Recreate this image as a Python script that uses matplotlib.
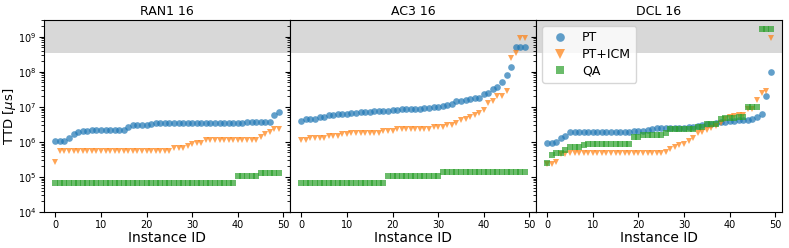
import numpy as np
import matplotlib
matplotlib.use("Agg")
import matplotlib.pyplot as plt

# instance ids 0..49
instance_id = np.arange(50)

# RAN1 16
ran1_pt = [1.05e6, 1.05e6, 1.05e6, 1.3e6, 1.65e6, 1.95e6, 2.05e6, 2.1e6, 2.15e6, 2.15e6,
           2.15e6, 2.15e6, 2.15e6, 2.15e6, 2.15e6, 2.2e6, 2.6e6, 3.0e6, 3.0e6, 3.0e6,
           3.0e6, 3.2e6, 3.5e6, 3.5e6, 3.5e6, 3.5e6, 3.5e6, 3.5e6, 3.5e6, 3.5e6,
           3.5e6, 3.5e6, 3.5e6, 3.5e6, 3.5e6, 3.5e6, 3.5e6, 3.55e6, 3.55e6, 3.55e6,
           3.55e6, 3.55e6, 3.6e6, 3.6e6, 3.6e6, 3.7e6, 3.8e6, 3.8e6, 5.8e6, 7.2e6]
ran1_icm = [2.7e5] + [5.4e5] * 25 + [6.6e5, 6.6e5, 6.6e5, 7.7e5, 9.0e5, 9.2e5, 9.5e5] + \
           [1.15e6] * 12 + [1.4e6, 1.65e6, 1.9e6, 2.3e6, 2.3e6]
ran1_qa = [6.6e4] * 40 + [1.08e5] * 5 + [1.33e5] * 5

# AC3 16
ac3_pt = [4.0e6, 4.5e6, 4.5e6, 4.6e6, 5.2e6, 5.3e6, 5.8e6, 5.9e6, 6.1e6, 6.3e6,
          6.4e6, 6.6e6, 6.8e6, 7.0e6, 7.2e6, 7.3e6, 7.4e6, 7.5e6, 7.6e6, 7.8e6,
          8.0e6, 8.2e6, 8.5e6, 8.6e6, 8.7e6, 8.8e6, 9.0e6, 9.3e6, 9.5e6, 1.0e7,
          1.02e7, 1.05e7, 1.1e7, 1.2e7, 1.45e7, 1.5e7, 1.6e7, 1.7e7, 1.8e7, 1.8e7,
          2.4e7, 2.5e7, 3.3e7, 3.6e7, 5.3e7, 8.0e7, 1.4e8, 5.2e8, 5.2e8, 5.2e8]
ac3_icm = [1.15e6, 1.1e6, 1.3e6, 1.3e6, 1.3e6, 1.3e6, 1.45e6, 1.45e6, 1.45e6, 1.65e6,
           1.65e6, 1.75e6, 1.85e6, 1.85e6, 1.85e6, 1.85e6, 1.85e6, 1.85e6, 2.1e6, 2.1e6,
           2.1e6, 2.3e6, 2.3e6, 2.3e6, 2.3e6, 2.3e6, 2.3e6, 2.3e6, 2.3e6, 2.6e6,
           2.75e6, 2.75e6, 3.0e6, 3.1e6, 3.5e6, 4.3e6, 4.4e6, 5.1e6, 5.9e6, 6.6e6,
           8.2e6, 1.3e7, 1.5e7, 2.0e7, 2.0e7, 2.9e7, 2.45e8, 3.4e8, 9.4e8, 9.4e8]
ac3_qa = [6.6e4] * 19 + [1.07e5] * 12 + [1.35e5] * 19

# DCL 16
dcl_pt = [9.5e5, 9.5e5, 1.0e6, 1.3e6, 1.45e6, 1.9e6, 1.9e6, 1.9e6, 1.9e6, 1.9e6,
          1.9e6, 1.9e6, 1.9e6, 1.9e6, 1.95e6, 1.95e6, 1.95e6, 1.95e6, 1.95e6, 2.0e6,
          2.05e6, 2.1e6, 2.2e6, 2.35e6, 2.45e6, 2.5e6, 2.5e6, 2.55e6, 2.55e6, 2.55e6,
          2.55e6, 2.6e6, 2.7e6, 2.9e6, 3.0e6, 3.2e6, 3.3e6, 3.5e6, 3.7e6, 3.8e6,
          3.9e6, 4.0e6, 4.1e6, 4.2e6, 4.3e6, 4.5e6, 5.3e6, 6.3e6, 2.05e7, 1.0e8]
dcl_icm = [2.4e5, 2.4e5, 2.6e5, 4.4e5, 4.6e5] + [4.8e5] * 21 + \
          [5.3e5, 6.2e5, 7.2e5, 8.2e5, 9.0e5, 1.05e6, 1.3e6, 1.75e6, 1.9e6, 2.25e6,
           2.45e6, 2.8e6, 3.4e6, 4.5e6, 5.2e6, 5.6e6, 5.8e6, 5.9e6, 8.5e6, 8.5e6,
           1.6e7, 2.5e7, 2.9e7, 9.2e8]
dcl_qa = [2.5e5, 4.2e5, 4.8e5, 4.8e5, 5.9e5, 7.3e5, 7.3e5, 7.3e5, 8.2e5] + [8.8e5] * 10 + \
         [1.4e6, 1.4e6] + [1.6e6] * 5 + [1.8e6] + [2.4e6] * 6 + [2.6e6, 2.6e6] + \
         [3.2e6] * 3 + [4.5e6, 4.7e6, 4.9e6, 4.9e6, 5.1e6, 5.1e6] + [1.0e7] * 3 + [1.66e9] * 3

titles = ["RAN1 16", "AC3 16", "DCL 16"]
pt_data = [ran1_pt, ac3_pt, dcl_pt]
icm_data = [ran1_icm, ac3_icm, dcl_icm]
qa_data = [ran1_qa, ac3_qa, dcl_qa]

timeout = 3.4e8
y_top = 3.0e9

fig, axes = plt.subplots(1, 3, sharey=True, figsize=(7.89, 2.48), dpi=100)
fig.subplots_adjust(left=0.056, right=0.991, top=0.919, bottom=0.145, wspace=0)

for ax, title, pt, icm, qa in zip(axes, titles, pt_data, icm_data, qa_data):
    ax.axhspan(timeout, y_top, color="gray", alpha=0.3, lw=0)
    ax.plot(instance_id, pt, "o", color="tab:blue", ms=4.8, alpha=0.7, mew=0, label="PT")
    ax.plot(instance_id, icm, "v", color="tab:orange", ms=5.0, alpha=0.7, mew=0, label="PT+ICM")
    ax.plot(instance_id, qa, "s", color="tab:green", ms=4.4, alpha=0.7, mew=0, label="QA")
    ax.set_yscale("log")
    ax.set_title(title, fontsize=9, pad=4)
    ax.set_xlabel("Instance ID", fontsize=10, labelpad=1)
    ax.set_xticks([0, 10, 20, 30, 40, 50])
    ax.tick_params(labelsize=7, pad=2)

axes[0].set_ylim(1e4, y_top)
axes[0].set_ylabel(r"TTD [$\mu$s]", fontsize=9.5, labelpad=0)
axes[2].legend(loc="upper left", fontsize=9, markerscale=1.3, handletextpad=0.8,
               borderpad=0.4, labelspacing=0.3, framealpha=0.8)

fig.savefig("out.png", dpi=100)
